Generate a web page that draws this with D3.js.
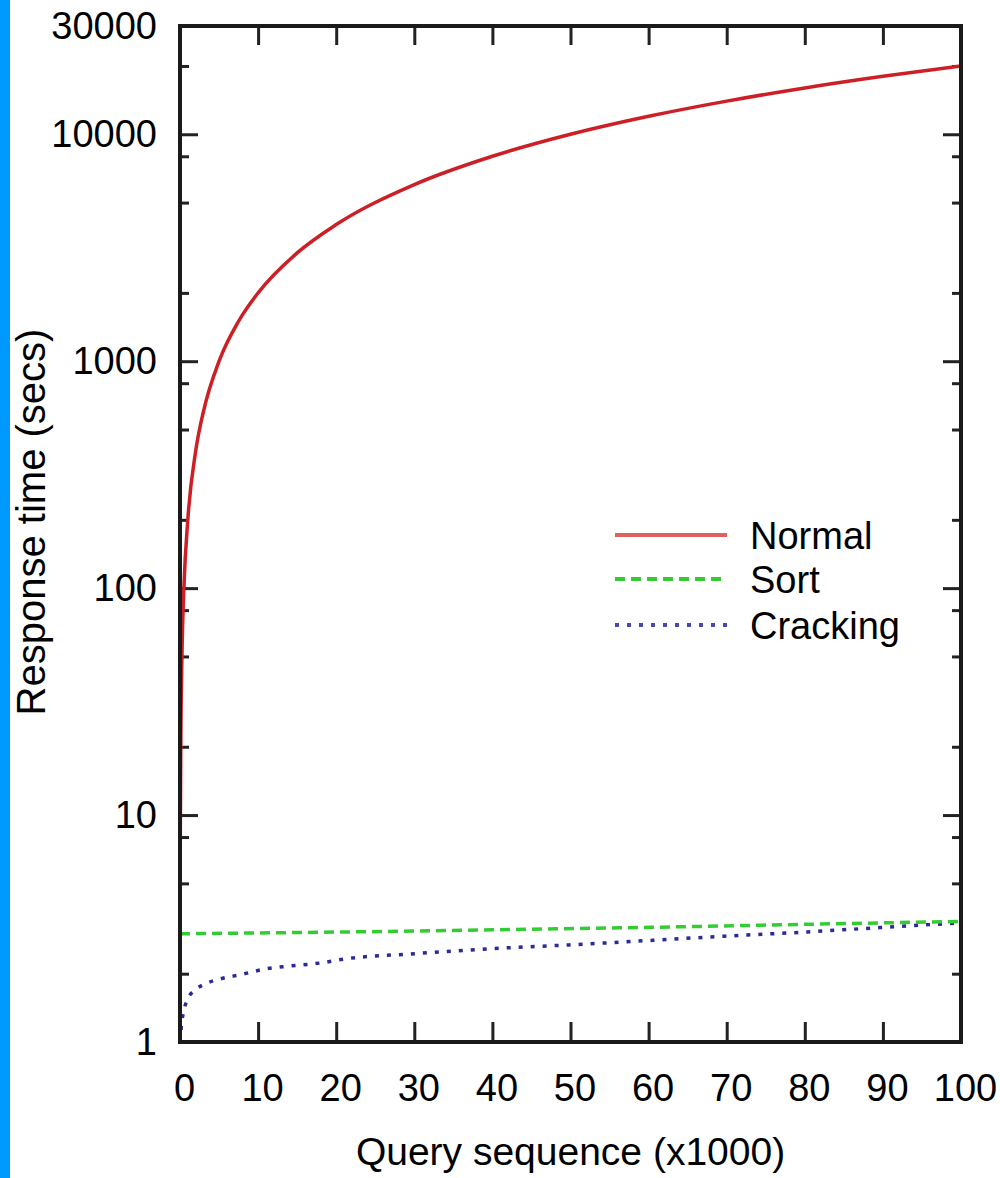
<!DOCTYPE html>
<html>
<head>
<meta charset="utf-8">
<script src="https://cdn.jsdelivr.net/npm/d3@7"></script>
<style>
  html, body { margin: 0; padding: 0; background: #fff; }
  svg { display: block; }
  text { font-family: "Liberation Sans", Arial, Helvetica, sans-serif; fill: #000; }
</style>
</head>
<body>
<script>
// ---- Data ----
const seriesNames = ["Normal", "Sort", "Cracking"];
const normalX = [0, 0.02, 0.05, 0.1, 0.25, 0.5, 1, 2, 3, 5, 7.5, 10, 15, 20, 30, 40, 50, 60, 70, 80, 90, 100];
const normalY = [1, 5, 10, 20, 50, 100, 200, 400, 600, 1000, 1500, 2000, 3000, 4000, 6000, 8000, 10000, 12000, 14000, 16000, 18000, 20000];
const sortX = [0, 20, 40, 60, 80, 100];
const sortY = [3.0, 3.05, 3.12, 3.2, 3.3, 3.4];
const crackX = [0, 0.2, 0.5, 1, 2, 3.5, 5, 8, 11, 14, 18, 21, 30, 40, 50, 60, 70, 80, 90, 100];
const crackY = [1.0, 1.2, 1.38, 1.55, 1.7, 1.82, 1.89, 1.99, 2.1, 2.16, 2.23, 2.32, 2.45, 2.58, 2.68, 2.8, 2.93, 3.05, 3.2, 3.35];
const xTicks = [0, 10, 20, 30, 40, 50, 60, 70, 80, 90, 100];
const yMajorTicks = [1, 10, 100, 1000, 10000, 30000];
const yMinorTicks = [2, 5, 8, 20, 50, 80, 200, 500, 800, 2000, 5000, 8000, 20000];

// ---- Layout ----
const W = 1000, H = 1178;
const mLeft = 180, mRight = 961, mTop = 26, mBottom = 1042;

const svg = d3.select("body").append("svg").attr("width", W).attr("height", H);

// left blue strip
svg.append("rect").attr("x", 0).attr("y", 0).attr("width", 10).attr("height", H).attr("fill", "#0099ff");

const x = d3.scaleLinear().domain([0, 100]).range([mLeft, mRight]);
const y = d3.scaleLog().domain([1, 30000]).range([mBottom, mTop]);

const fontSize = 38;

// Axes
const axisStyle = g => {
  g.select(".domain").remove();
  g.selectAll(".tick line").attr("stroke", "#222").attr("stroke-width", 3);
  g.selectAll(".tick text").attr("font-size", fontSize).attr("font-family", "Liberation Sans, Arial, sans-serif").attr("fill", "#000");
};

svg.append("g").attr("transform", `translate(0,${mBottom})`)
  .call(d3.axisBottom(x).tickValues(xTicks).tickFormat(d3.format("d")).tickSize(-20).tickPadding(32))
  .call(axisStyle)
  .call(g => g.selectAll(".tick text").attr("dx", 4));

svg.append("g").attr("transform", `translate(0,${mTop})`)
  .call(d3.axisTop(x).tickValues(xTicks).tickFormat("").tickSize(-19))
  .call(axisStyle);

svg.append("g").attr("transform", `translate(${mLeft},0)`)
  .call(d3.axisLeft(y).tickValues(yMajorTicks).tickFormat(d3.format("d")).tickSize(-18).tickPadding(23))
  .call(axisStyle)
  .call(g => g.selectAll(".tick").filter(d => d === 30000).select("line").remove());

svg.append("g").attr("transform", `translate(${mLeft},0)`)
  .call(d3.axisLeft(y).tickValues(yMinorTicks).tickFormat("").tickSize(-9))
  .call(axisStyle);

svg.append("g").attr("transform", `translate(${mRight},0)`)
  .call(d3.axisRight(y).tickValues(yMajorTicks.filter(d => d !== 30000)).tickFormat("").tickSize(-18))
  .call(axisStyle);

svg.append("g").attr("transform", `translate(${mRight},0)`)
  .call(d3.axisRight(y).tickValues(yMinorTicks).tickFormat("").tickSize(-9))
  .call(axisStyle);

// Series
const line = d3.line().x(d => x(d[0])).y(d => y(d[1])).curve(d3.curveMonotoneX);
const series = [
  { name: seriesNames[0], data: d3.zip(normalX, normalY), color: "#cc2026", legendColor: "#e06060", width: 3.5, dash: null },
  { name: seriesNames[1], data: d3.zip(sortX, sortY), color: "#33cc33", legendColor: "#33cc33", width: 3.5, dash: "10,6" },
  { name: seriesNames[2], data: d3.zip(crackX, crackY), color: "#2a2a9a", legendColor: "#4a4aaa", width: 3.5, dash: "4,8" }
];

const plot = svg.append("g");
plot.append("clipPath").attr("id", "clip").append("rect")
  .attr("x", mLeft).attr("y", mTop).attr("width", mRight - mLeft).attr("height", mBottom - mTop);

// draw cracking, sort, then normal
[series[2], series[1], series[0]].forEach(s => {
  plot.append("path")
    .attr("clip-path", "url(#clip)")
    .attr("d", line(s.data))
    .attr("fill", "none")
    .attr("stroke", s.color)
    .attr("stroke-width", s.width)
    .attr("stroke-dasharray", s.dash);
});

// Frame
svg.append("rect")
  .attr("x", mLeft).attr("y", mTop).attr("width", mRight - mLeft).attr("height", mBottom - mTop)
  .attr("fill", "none").attr("stroke", "#1a1a1a").attr("stroke-width", 4);

// Legend
const legendY = [535, 579, 625];
const legend = svg.append("g");
series.forEach((s, i) => {
  legend.append("line")
    .attr("x1", 615).attr("x2", 727).attr("y1", legendY[i]).attr("y2", legendY[i])
    .attr("stroke", s.legendColor).attr("stroke-width", 4)
    .attr("stroke-dasharray", s.dash);
  legend.append("text")
    .attr("x", 750).attr("y", legendY[i]).attr("dy", "0.36em")
    .attr("font-size", fontSize)
    .text(s.name);
});

// Axis titles
svg.append("text")
  .attr("x", (mLeft + mRight) / 2).attr("y", 1165)
  .attr("text-anchor", "middle").attr("font-size", 39)
  .text("Query sequence (x1000)");

svg.append("text")
  .attr("transform", `translate(45,${(mTop + mBottom) / 2 - 12}) rotate(-90)`)
  .attr("text-anchor", "middle").attr("font-size", 40)
  .text("Response time (secs)");
</script>
</body>
</html>
